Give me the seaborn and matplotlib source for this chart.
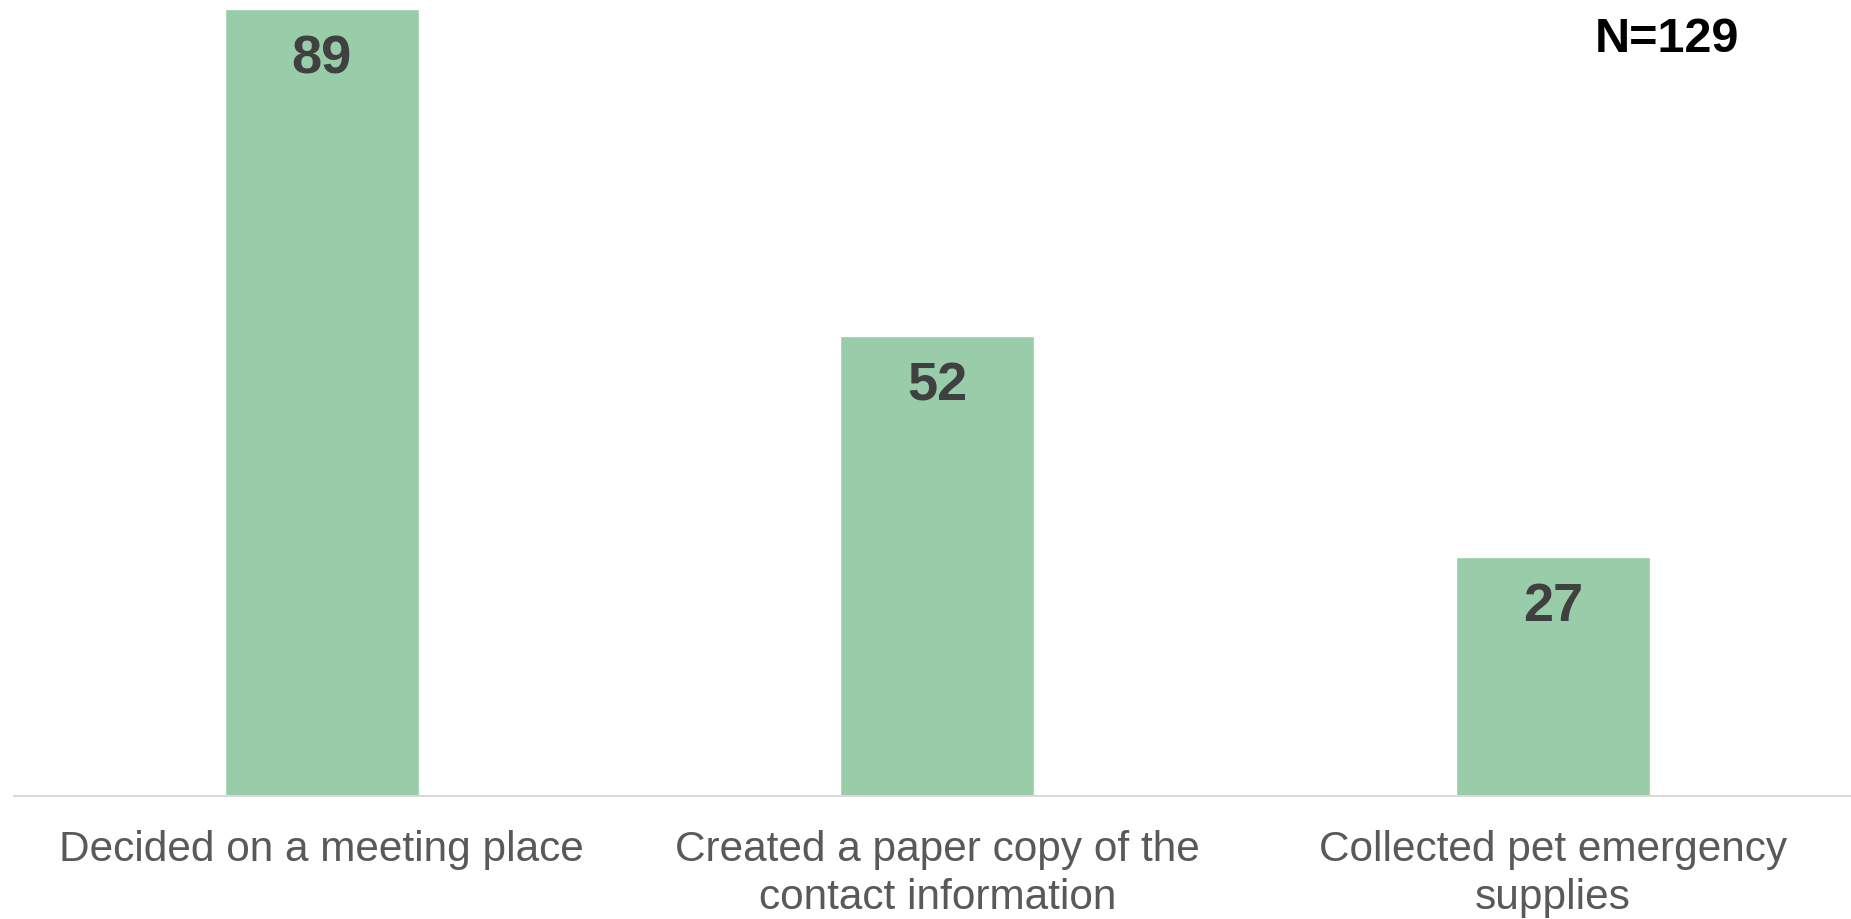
import pandas as pd
import seaborn as sns
import matplotlib.pyplot as plt

categories = [
    "Decided on a meeting place",
    "Created a paper copy of the\ncontact information",
    "Collected pet emergency\nsupplies",
]
counts = [89, 52, 27]
total_n = 129

if __name__ == "__main__":
    df = pd.DataFrame({"Action": categories, "Count": counts})

    sns.set_theme(style="white")
    plt.rcParams["font.family"] = ["Liberation Sans", "DejaVu Sans"]

    fig = plt.figure(figsize=(18.51, 9.19), dpi=100)
    ax = fig.add_axes([14 / 1851, 0.1343, 1846.5 / 1851, 0.8650])

    sns.barplot(
        data=df,
        x="Action",
        y="Count",
        color="#99CDA9",
        saturation=1,
        width=0.315,
        ax=ax,
    )

    ax.set_xlim(-0.5, 2.5)
    ax.set_ylim(0, 90)
    ax.set_xlabel("")
    ax.set_ylabel("")
    ax.set_yticks([])

    for s in ["top", "right", "left"]:
        ax.spines[s].set_visible(False)
    ax.spines["bottom"].set_color("#d9d9d9")
    ax.spines["bottom"].set_linewidth(1.5)

    ax.tick_params(axis="x", length=0, pad=25, labelsize=30.5, labelcolor="#595959")
    for lbl in ax.get_xticklabels():
        lbl.set_linespacing(1.25)

    # value labels inside the top of each bar
    for i, v in enumerate(counts):
        ax.annotate(
            str(v), xy=(i, v), xytext=(0, -36), textcoords="offset points",
            ha="center", va="center", fontsize=39, fontweight="bold", color="#404040",
        )

    fig.text(1667 / 1851, 1 - 40 / 919, f"N={total_n}", ha="center", va="center",
             fontsize=35, fontweight="bold", color="black")

    fig.savefig("out.png", dpi=100, facecolor="white")
